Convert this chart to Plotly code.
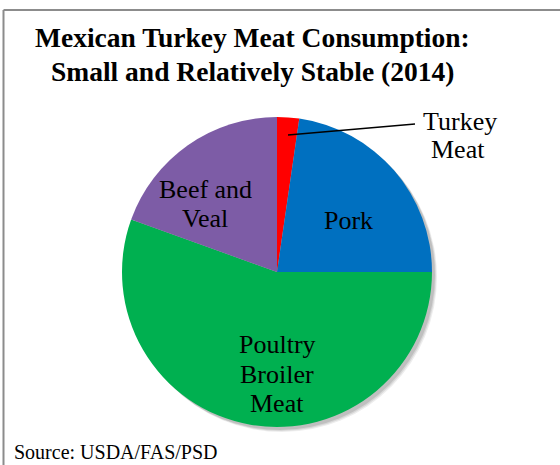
import plotly.graph_objects as go

W, H = 560, 465

categories = ["Turkey Meat", "Pork", "Poultry Broiler Meat", "Beef and Veal"]
shares = [2.3, 22.7, 55.5, 19.5]
colors = ["#FF0000", "#0070C0", "#00B050", "#7D5CA6"]
title_lines = ["Mexican Turkey Meat Consumption:", "Small and Relatively Stable (2014)"]
label_lines = {
    "Turkey Meat": ["Turkey", "Meat"],
    "Pork": ["Pork"],
    "Poultry Broiler Meat": ["Poultry", "Broiler", "Meat"],
    "Beef and Veal": ["Beef and", "Veal"],
}
source_text = "Source: USDA/FAS/PSD"

def px_x(x):
    return x / W

def px_y(y):
    return 1 - y / H

cx, cy, r = 277, 272, 155

fig = go.Figure()

# soft shadow
for off, alpha in [(5, 0.07), (4, 0.09), (3, 0.11)]:
    fig.add_trace(go.Pie(
        values=[1], marker=dict(colors=[f"rgba(0,0,0,{alpha})"], line=dict(width=0)),
        textinfo="none", hoverinfo="skip", showlegend=False, sort=False,
        domain=dict(x=[px_x(cx - r + off), px_x(cx + r + off)],
                    y=[px_y(cy + r + off), px_y(cy - r + off)]),
    ))

fig.add_trace(go.Pie(
    labels=categories, values=shares,
    marker=dict(colors=colors, line=dict(width=0)),
    sort=False, direction="clockwise", rotation=0,
    textinfo="none", showlegend=False,
    domain=dict(x=[px_x(cx - r), px_x(cx + r)], y=[px_y(cy + r), px_y(cy - r)]),
))

font_serif = "Liberation Serif, Times New Roman, serif"
label_font = dict(family=font_serif, size=26, color="#000000")

annotations = []
# title lines
for line, y in zip(title_lines, [37, 71]):
    annotations.append(dict(text="<b>" + line + "</b>", x=px_x(252.5), y=px_y(y),
                            xref="paper", yref="paper", showarrow=False,
                            font=dict(family=font_serif, size=27.5, color="#000"),
                            xanchor="center", yanchor="middle"))

label_pos = {
    "Turkey Meat": [(460, 121.5), (458, 149.5)],
    "Pork": [(348, 220)],
    "Poultry Broiler Meat": [(277, 344.5), (277, 374.5), (277, 403.5)],
    "Beef and Veal": [(205, 189.5), (205, 218.5)],
}
for cat in categories:
    for line, (x, y) in zip(label_lines[cat], label_pos[cat]):
        annotations.append(dict(text=line, x=px_x(x), y=px_y(y), xref="paper", yref="paper",
                                showarrow=False, font=label_font,
                                xanchor="center", yanchor="middle"))

annotations.append(dict(text=source_text, x=px_x(12), y=px_y(452), xref="paper", yref="paper",
                        showarrow=False, font=dict(family=font_serif, size=20, color="#000"),
                        xanchor="left", yanchor="middle"))

shapes = [
    dict(type="line", xref="paper", yref="paper", x0=px_x(288), y0=px_y(135),
         x1=px_x(415), y1=px_y(124), line=dict(color="#000", width=1.5)),
    dict(type="line", xref="paper", yref="paper", x0=px_x(3.5), y0=px_y(10),
         x1=px_x(562), y1=px_y(10), line=dict(color="#8C8C8C", width=2)),
    dict(type="line", xref="paper", yref="paper", x0=px_x(3.5), y0=px_y(10),
         x1=px_x(3.5), y1=px_y(470), line=dict(color="#8C8C8C", width=2)),
]

fig.update_layout(
    width=W, height=H, margin=dict(l=0, r=0, t=0, b=0),
    paper_bgcolor="white", plot_bgcolor="white",
    annotations=annotations, shapes=shapes, showlegend=False,
)

fig.write_html("out.html")
